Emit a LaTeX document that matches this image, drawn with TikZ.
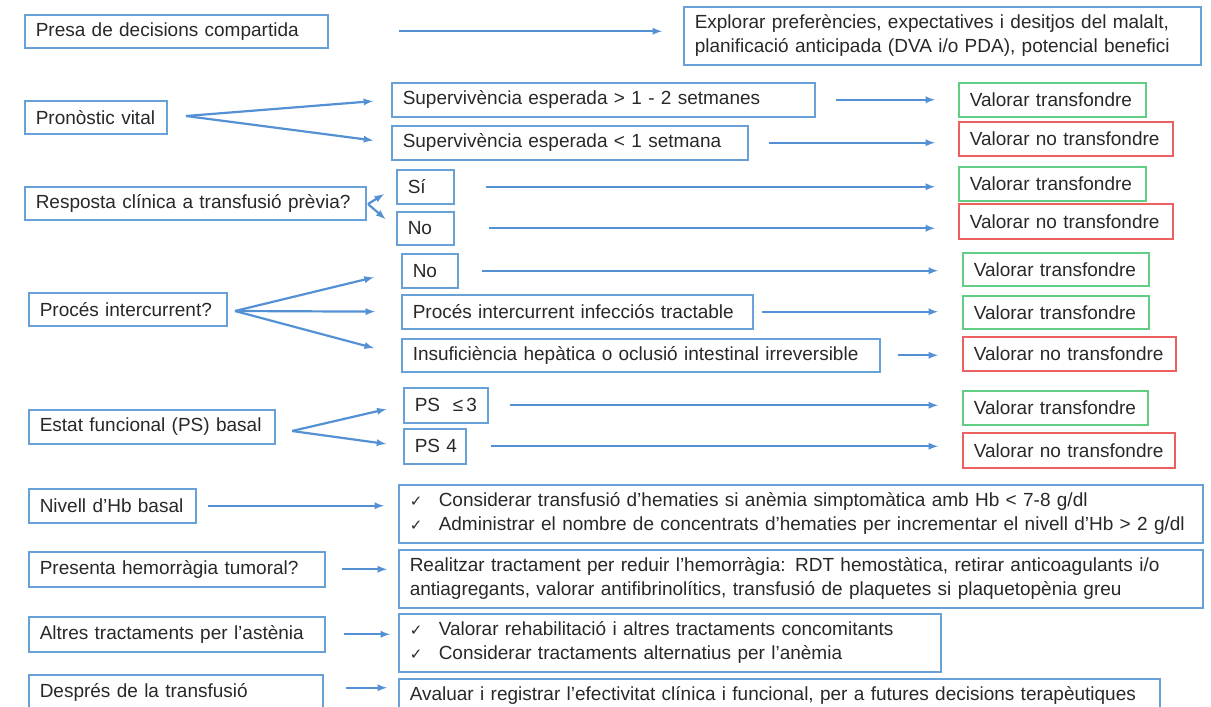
\documentclass[tikz,border=0pt]{standalone}
\usepackage{fontspec}
\setmainfont{Liberation Sans}
\newfontfamily\symfont{DejaVu Sans}
\usetikzlibrary{arrows}

\definecolor{boxblue}{RGB}{104,160,216}
\definecolor{arrowblue}{RGB}{84,144,212}
\definecolor{okgreen}{RGB}{98,206,132}
\definecolor{nored}{RGB}{236,96,96}
\definecolor{inkgray}{RGB}{40,40,40}
\newcommand{\chkmark}{\makebox[29pt][l]{\symfont\fontsize{15}{24}\selectfont ✓}}

\begin{document}
\begin{tikzpicture}[x=1pt,y=-1pt,
	box/.style={draw=boxblue,line width=1.5pt,anchor=north west,inner xsep=11pt,inner ysep=0pt,align=left,text=inkgray,font=\fontsize{19}{24}\selectfont},
	gobox/.style={box,draw=okgreen},
	stopbox/.style={box,draw=nored},
	link/.style={draw=arrowblue,line width=2.2pt,-latex},
	gap/.style 2 args={shorten <=#1pt,shorten >=#2pt}]
		\useasboundingbox (0,0) rectangle (1211,707);
		\clip (0,0) rectangle (1211,707);
%		\draw[help lines,step=50] (0,0) grid (1211,707);

		% presa de decisions
		\node[box,text width=281pt,minimum height=33pt] (presa) at (24,14) {Presa de decisions compartida};
		\node[box,text width=495pt,minimum height=58pt] (explorar) at (683,6) {Explorar preferències, expectatives i desitjos del malalt,\\planificació anticipada (DVA i/o PDA), potencial benefici};
		\draw[link,gap={70}{21}] (presa.east) -- (presa.east -| explorar.west);

		% pronostic vital
		\node[box,text width=120pt,minimum height=33pt] (pronostic) at (24,100) {Pronòstic vital};
		\node[box,text width=401pt,minimum height=34pt] (sup1) at (391,82) {Supervivència esperada > 1 - 2 setmanes};
		\node[box,text width=334pt,minimum height=34pt] (sup2) at (391,125) {Supervivència esperada < 1 setmana};
		\node[gobox,text width=165pt,minimum height=34pt] (vt1) at (958,82) {Valorar transfondre};
		\node[stopbox,text width=192pt,minimum height=34pt] (vn1) at (958,121) {Valorar no transfondre};
		\coordinate (pronfan) at (186,116);
		\draw[link,shorten >=18pt] (pronfan) -- (sup1.west);
		\draw[link,shorten >=18pt] (pronfan) -- (sup2.west);
		\draw[link,gap={20}{23}] (sup1.east) -- (sup1.east -| vt1.west);
		\draw[link,gap={20}{23}] (sup2.east) -- (sup2.east -| vn1.west);

		% resposta clinica
		\node[box,text width=319pt,minimum height=33pt] (resposta) at (24,186) {Resposta clínica a transfusió prèvia?};
		\node[box,text width=35pt,minimum height=34pt] (si) at (396,169) {Sí};
		\node[box,text width=35pt,minimum height=33pt] (no1) at (396,211) {No};
		\node[gobox,text width=165pt,minimum height=34pt] (vt2) at (958,166) {Valorar transfondre};
		\node[stopbox,text width=192pt,minimum height=35pt] (vn2) at (958,203) {Valorar no transfondre};
		\coordinate (respfan) at (368,204);
		\draw[link,shorten >=14pt] (respfan) -- (si.west);
		\draw[link,shorten >=14pt] (respfan) -- (no1.west);
		\draw[link,gap={31}{23}] (si.east) -- (si.east -| vt2.west);
		\draw[link,gap={34}{23}] (no1.east) -- (no1.east -| vn2.west);

		% proces intercurrent
		\node[box,text width=176pt,minimum height=33pt] (proces) at (28,292) {Procés intercurrent?};
		\node[box,text width=34pt,minimum height=34pt] (no2) at (401,253) {No};
		\node[box,text width=329pt,minimum height=34pt] (tract) at (401,294) {Procés intercurrent infecciós tractable};
		\node[box,text width=456pt,minimum height=33pt] (insuf) at (401,338) {Insuficiència hepàtica o oclusió intestinal irreversible};
		\node[gobox,text width=164pt,minimum height=33pt] (vt3) at (962,252) {Valorar transfondre};
		\node[gobox,text width=164pt,minimum height=33pt] (vt4) at (962,295) {Valorar transfondre};
		\node[stopbox,text width=191pt,minimum height=34pt] (vn3) at (962,336) {Valorar no transfondre};
		\coordinate (procfan) at (235,311);
		\draw[link,shorten >=28pt] (procfan) -- (no2.west);
		\draw[link,shorten >=26pt] (procfan) -- (tract.west);
		\draw[link,shorten >=28pt] (procfan) -- (insuf.west);
		\draw[link,gap={23}{24}] (no2.east) -- (no2.east -| vt3.west);
		\draw[link,gap={8}{24}] (tract.east) -- (tract.east -| vt4.west);
		\draw[link,gap={17}{24}] (insuf.east) -- (insuf.east -| vn3.west);

		% estat funcional
		\node[box,text width=224pt,minimum height=34pt] (estat) at (28,409) {Estat funcional (PS) basal};
		\node[box,text width=62pt,minimum height=35pt] (ps3) at (403,387) {\mbox{PS\ \ ≤\,3}};
		\node[box,text width=40pt,minimum height=35pt] (ps4) at (403,428) {\mbox{PS 4}};
		\node[gobox,text width=163pt,minimum height=34pt] (vt5) at (962,390) {Valorar transfondre};
		\node[stopbox,text width=190pt,minimum height=35pt] (vn4) at (962,432) {Valorar no transfondre};
		\coordinate (estatfan) at (292,431);
		\draw[link,shorten >=17pt] (estatfan) -- (ps3.west);
		\draw[link,shorten >=17pt] (estatfan) -- (ps4.west);
		\draw[link,gap={21}{24}] (ps3.east) -- (ps3.east -| vt5.west);
		\draw[link,gap={24}{24}] (ps4.east) -- (ps4.east -| vn4.west);

		% accions
		\node[box,text width=145pt,minimum height=34pt] (nivell) at (28,488) {Nivell d’Hb basal};
		\node[box,text width=782pt,minimum height=58pt] (hbbox) at (398,484) {\chkmark Considerar transfusió d’hematies si anèmia simptomàtica amb Hb < 7-8 g/dl\\\chkmark Administrar el nombre de concentrats d’hematies per incrementar el nivell d’Hb > 2 g/dl};
		\draw[link,gap={11}{14}] (nivell.east) -- (nivell.east -| hbbox.west);

		\node[box,text width=274pt,minimum height=35pt] (hemo) at (28,551) {Presenta hemorràgia tumoral?};
		\node[box,text width=782pt,minimum height=58pt] (hemobox) at (398,549) {Realitzar tractament per reduir l’hemorràgia: RDT hemostàtica, retirar anticoagulants i/o\\antiagregants, valorar antifibrinolítics, transfusió de plaquetes si plaquetopènia greu};
		\draw[link,gap={16}{11}] (hemo.east) -- (hemo.east -| hemobox.west);

		\node[box,text width=274pt,minimum height=35pt] (altres) at (28,616) {Altres tractaments per l’astènia};
		\node[box,text width=520pt,minimum height=58pt] (altresbox) at (398,613) {\chkmark Valorar rehabilitació i altres tractaments concomitants\\\chkmark Considerar tractaments alternatius per l’anèmia};
		\draw[link,gap={18}{8}] (altres.east) -- (altres.east -| altresbox.west);

		\node[box,text width=272pt,minimum height=36pt] (despres) at (28,674) {Després de la transfusió};
		\node[box,text width=739pt,minimum height=34pt] (avaluar) at (398,678) {Avaluar i registrar l’efectivitat clínica i funcional, per a futures decisions terapèutiques};
		\coordinate (despresout) at ([yshift=5pt]despres.east);
		\draw[link,gap={22}{11}] (despresout) -- (despresout -| avaluar.west);
	\end{tikzpicture}
\end{document}
